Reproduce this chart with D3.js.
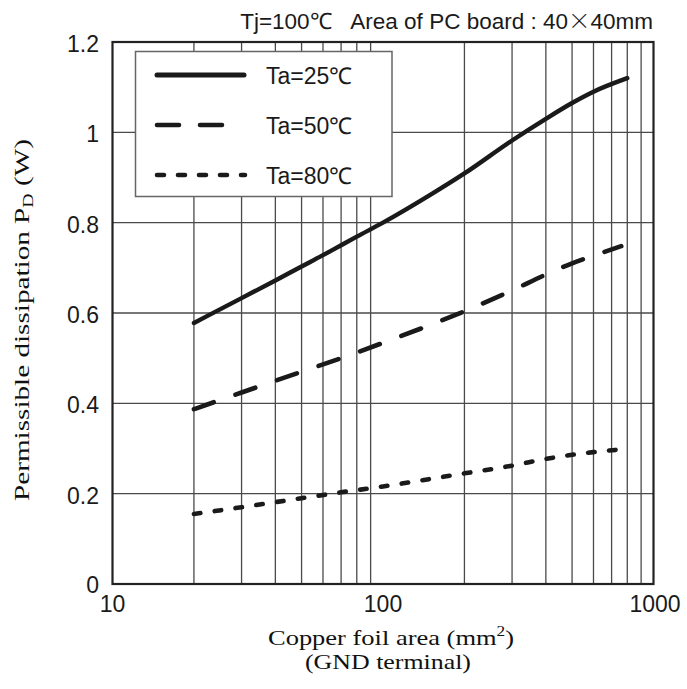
<!DOCTYPE html>
<html lang="en">
  <head>
    <meta charset="UTF-8" />
    <title>Permissible dissipation vs copper foil area</title>
    <script src="https://d3js.org/d3.v7.min.js"></script>
    <style>
      body {
        margin: 0;
        background: #fff;
      }
      svg {
        display: block;
      }
      .sans {
        font-family: "Liberation Sans", Arial, sans-serif;
        fill: #1a1a1a;
      }
      .serif {
        font-family: "Liberation Serif", "Times New Roman", serif;
        fill: #111;
      }
    </style>
  </head>
  <body>
    <svg id="chart" width="687" height="689"></svg>

    <script>
      // values
      const xTicks = [10, 100, 1000];
      const yTicks = [0, 0.2, 0.4, 0.6, 0.8, 1, 1.2];
      const xGrid = [20, 30, 40, 50, 60, 70, 80, 90, 200, 300, 400, 500, 600, 700, 800, 900];

      const ta25Area = [20, 30, 40, 50, 60, 70, 80, 100, 150, 200, 300, 400, 500, 600, 800];
      const ta25Pd = [0.578, 0.633, 0.672, 0.703, 0.728, 0.75, 0.769, 0.8, 0.862, 0.909, 0.982, 1.03, 1.065, 1.09, 1.12];

      const ta50Area = [20, 30, 50, 70, 100, 200, 300, 400, 500, 600, 760];
      const ta50Pd = [0.387, 0.424, 0.47, 0.5, 0.534, 0.604, 0.65, 0.685, 0.71, 0.727, 0.748];

      const ta80Area = [20, 30, 50, 70, 100, 200, 300, 400, 600, 760];
      const ta80Pd = [0.155, 0.17, 0.19, 0.203, 0.216, 0.245, 0.262, 0.277, 0.292, 0.298];

      const seriesNames = ["Ta=25℃", "Ta=50℃", "Ta=80℃"];

      const series = [
        { name: seriesNames[0], area: ta25Area, pd: ta25Pd, dash: null },
        { name: seriesNames[1], area: ta50Area, pd: ta50Pd, dash: "21,23" },
        { name: seriesNames[2], area: ta80Area, pd: ta80Pd, dash: "6.5,14.5" },
      ];

      const svg = d3.select("#chart");
      const margin = { left: 112.5, right: 33.5, top: 42, bottom: 105 };
      const width = 687 - margin.left - margin.right;
      const height = 689 - margin.top - margin.bottom;

      const x = d3.scaleLog().domain([10, 1000]).range([margin.left, margin.left + width]);
      const y = d3.scaleLinear().domain([0, 1.2]).range([margin.top + height, margin.top]);

      // grid
      const grid = svg.append("g").attr("stroke", "#4a4a4a").attr("stroke-width", 1.3);
      grid
        .selectAll(".vg")
        .data(xGrid)
        .enter()
        .append("line")
        .attr("x1", (d) => x(d))
        .attr("x2", (d) => x(d))
        .attr("y1", y(0))
        .attr("y2", y(1.2));
      grid
        .selectAll(".hg")
        .data(yTicks.slice(1, -1))
        .enter()
        .append("line")
        .attr("x1", x(10))
        .attr("x2", x(1000))
        .attr("y1", (d) => y(d))
        .attr("y2", (d) => y(d));

      // legend box (covers the grid)
      const legend = svg.append("g");
      legend
        .append("rect")
        .attr("x", 135.5)
        .attr("y", 51.5)
        .attr("width", 256.5)
        .attr("height", 145)
        .attr("fill", "#fff")
        .attr("stroke", "#666")
        .attr("stroke-width", 1.5);

      const legendY = [75, 125, 175];
      const legendEnd = [244, 227, 245];
      series.forEach((s, i) => {
        legend
          .append("line")
          .attr("x1", 157)
          .attr("x2", legendEnd[i])
          .attr("y1", legendY[i])
          .attr("y2", legendY[i])
          .attr("stroke", "#1a1a1a")
          .attr("stroke-width", i === 0 ? 5 : 4.6)
          .attr("stroke-linecap", "round")
          .attr("stroke-dasharray", s.dash === null ? null : i === 1 ? "22,21" : "7,14");
        legend
          .append("text")
          .attr("class", "sans")
          .attr("x", 266)
          .attr("y", legendY[i] + 8.5)
          .attr("font-size", 23)
          .text(s.name);
      });

      // curves
      const line = d3
        .line()
        .x((d) => x(d[0]))
        .y((d) => y(d[1]))
        .curve(d3.curveMonotoneX);

      svg
        .append("g")
        .selectAll("path")
        .data(series)
        .enter()
        .append("path")
        .attr("d", (s) => line(s.area.map((a, i) => [a, s.pd[i]])))
        .attr("fill", "none")
        .attr("stroke", "#1a1a1a")
        .attr("stroke-width", (s) => (s.dash ? 4.6 : 4.4))
        .attr("stroke-linecap", "round")
        .attr("stroke-dasharray", (s) => s.dash);

      // frame
      svg
        .append("rect")
        .attr("x", x(10))
        .attr("y", y(1.2))
        .attr("width", width)
        .attr("height", height)
        .attr("fill", "none")
        .attr("stroke", "#222")
        .attr("stroke-width", 2.2);

      // tick labels
      svg
        .append("g")
        .selectAll("text")
        .data(yTicks)
        .enter()
        .append("text")
        .attr("class", "sans")
        .attr("x", 99)
        .attr("y", (d) => y(d) + (d === 0 ? 9 : 10))
        .attr("text-anchor", "end")
        .attr("font-size", 23)
        .text((d) => d3.format("~g")(d));

      svg
        .append("g")
        .selectAll("text")
        .data(xTicks)
        .enter()
        .append("text")
        .attr("class", "sans")
        .attr("x", (d) => x(d) + (d === 1000 ? 1.5 : 0))
        .attr("y", 612)
        .attr("text-anchor", "middle")
        .attr("font-size", 23)
        .text((d) => d);

      // title
      const title = svg
        .append("text")
        .attr("class", "sans")
        .attr("x", 653)
        .attr("y", 29)
        .attr("text-anchor", "end")
        .attr("font-size", 22.5);
      title.append("tspan").text("Tj=100℃\u00a0\u00a0\u00a0Area of PC board : 40");
      title
        .append("tspan")
        .attr("font-family", "'Noto Sans CJK JP', sans-serif")
        .attr("font-weight", 300)
        .text("×");
      title.append("tspan").text("40mm");

      // axis titles
      const xt = svg.append("g").attr("class", "serif").attr("font-size", 21.5).attr("text-anchor", "middle");
      const xt1 = xt.append("text").attr("x", 391).attr("y", 645).attr("textLength", 246).attr("lengthAdjust", "spacingAndGlyphs");
      xt1.append("tspan").text("Copper foil area (mm");
      xt1.append("tspan").attr("font-size", 14).attr("dy", -9).text("2");
      xt1.append("tspan").attr("dy", 9).text(")");
      xt.append("text")
        .attr("x", 388)
        .attr("y", 669)
        .attr("textLength", 166)
        .attr("lengthAdjust", "spacingAndGlyphs")
        .text("(GND terminal)");

      const yt = svg
        .append("text")
        .attr("class", "serif")
        .attr("font-size", 22)
        .attr("text-anchor", "middle")
        .attr("transform", "translate(29,320) rotate(-90)")
        .attr("textLength", 362)
        .attr("lengthAdjust", "spacingAndGlyphs");
      yt.append("tspan").text("Permissible dissipation P");
      yt.append("tspan").attr("font-size", 15).attr("dy", 4).text("D");
      yt.append("tspan").attr("dy", -4).text(" (W)");
    </script>
  </body>
</html>
